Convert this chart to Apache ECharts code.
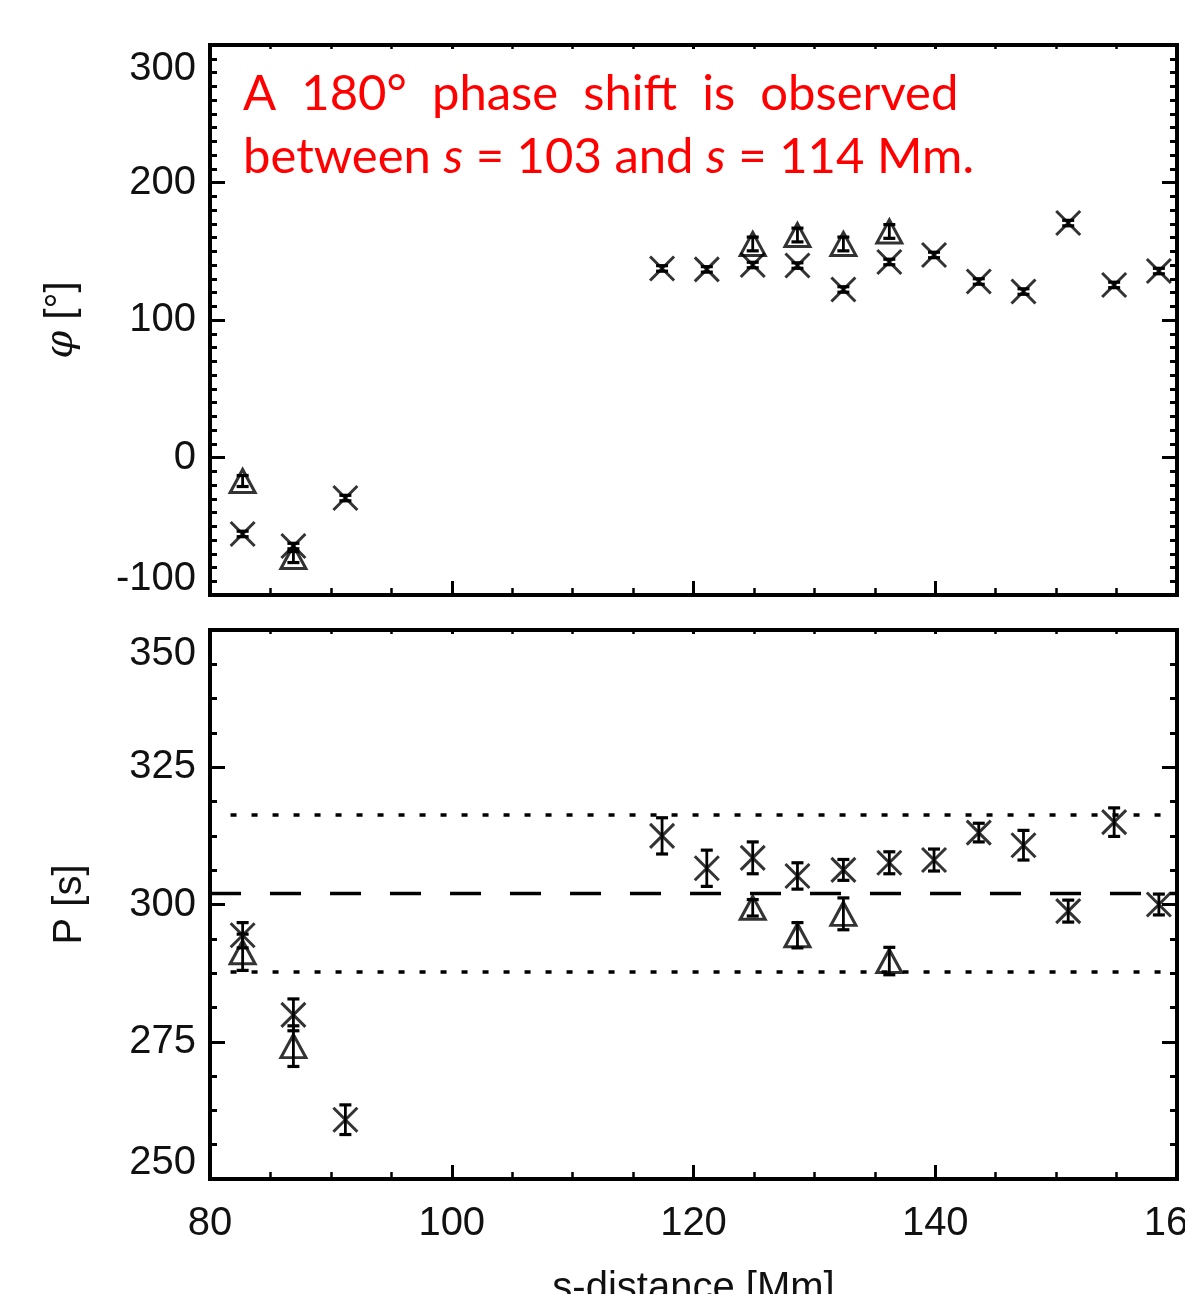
<!DOCTYPE html>
<html>
<head>
<meta charset="utf-8">
<title>phase and period</title>
<script src="https://cdn.jsdelivr.net/npm/echarts@6/dist/echarts.min.js"></script>
</head>
<body style="margin:0;padding:0;background:#fff;">
<div id="main" style="width:1185px;height:1294px;"></div>
<script type="text/javascript">
// s-distance of the measurement positions [Mm]
var sDist = [82.7, 86.9, 91.2, 117.4, 121.1, 124.9, 128.6, 132.4, 136.2, 139.9, 143.6, 147.3, 151.0, 154.8, 158.5];
// positions that also have a triangle measurement
var sTri = [82.7, 86.9, 124.9, 128.6, 132.4, 136.2];

// top panel: phase [deg]
var phaseX = [-55.6, -64.4, -29.5, 137.5, 136.8, 140.0, 139.6, 122.2, 142.2, 147.3, 128.0, 120.7, 170.5, 125.5, 135.6];
var phaseXErr = [2, 2, 2, 2, 2, 2, 2, 2, 2, 2, 2, 2, 2, 2, 2];
var phaseTri = [-17.1, -72.4, 155.3, 161.8, 155.3, 164.4];
var phaseTriErr = [4, 4, 5, 5, 5, 5];

// bottom panel: period [s]
var periodX = [294.4, 279.9, 260.8, 312.5, 306.6, 308.5, 305.2, 306.3, 307.6, 308.1, 313.1, 310.8, 298.8, 315.0, 300.0];
var periodXErr = [2.3, 2.9, 2.7, 3.3, 3.3, 2.9, 2.4, 1.9, 2.0, 2.0, 1.7, 2.7, 2.0, 2.6, 1.9];
var periodTri = [291.3, 274.2, 299.4, 294.4, 298.3, 289.7];
var periodTriErr = [3.3, 3.7, 1.5, 2.3, 2.9, 2.5];

// mean period and band
var meanP = 302;
var bandP = [316.3, 287.7];
var bandRange = [81.7, 159.2];

var FONT = '"Liberation Sans", Arial, sans-serif';
var RED_FONT = '49px Lato, "Open Sans", sans-serif';
var myChart = echarts.init(document.getElementById('main'));

function pts(xs, ys) {
    return xs.map(function (x, i) { return [x, ys[i]]; });
}
function errPts(xs, ys, es) {
    return xs.map(function (x, i) { return [x, ys[i], es[i]]; });
}

function errRender(params, api) {
    var x = api.value(0), y = api.value(1), e = api.value(2);
    var hi = api.coord([x, y + e]);
    var lo = api.coord([x, y - e]);
    var cw = 6;
    return {
        type: 'group',
        children: [
            { type: 'line', shape: { x1: hi[0], y1: hi[1], x2: lo[0], y2: lo[1] }, style: { stroke: '#000', lineWidth: 2.8 } },
            { type: 'line', shape: { x1: hi[0] - cw, y1: hi[1], x2: hi[0] + cw, y2: hi[1] }, style: { stroke: '#000', lineWidth: 3.2 } },
            { type: 'line', shape: { x1: lo[0] - cw, y1: lo[1], x2: lo[0] + cw, y2: lo[1] }, style: { stroke: '#000', lineWidth: 3.2 } }
        ]
    };
}

var crossSym = 'path://M0,0L10,10M10,0L0,10';
var markStyle = { color: 'transparent', borderColor: '#000', borderWidth: 3 };

function xAx(grid, pos, withLabels) {
    var a = {
        gridIndex: grid, type: 'value', min: 80, max: 160, interval: 20, position: pos,
        axisLine: { show: false, onZero: false },
        splitLine: { show: false },
        axisTick: { inside: true, length: pos === 'top' ? 4 : 14, lineStyle: { width: 3, color: '#000' } },
        minorTick: { show: true, splitNumber: 4, length: pos === 'top' ? 4 : 7, lineStyle: { width: 2.5, color: '#000' } },
        axisLabel: { show: withLabels, color: '#111', fontSize: 40, fontFamily: FONT, margin: 25 }
    };
    if (withLabels) {
        a.name = 's-distance [Mm]';
        a.nameLocation = 'middle';
        a.nameGap = 90;
        a.nameTextStyle = { color: '#111', fontSize: 40, fontFamily: FONT };
    }
    return a;
}

function yAx(grid, pos, min, max, interval, minorSplit, name, nameGap) {
    var a = {
        gridIndex: grid, type: 'value', min: min, max: max, interval: interval, position: pos,
        axisLine: { show: false, onZero: false },
        splitLine: { show: false },
        axisTick: { inside: true, length: 15, lineStyle: { width: 3, color: '#000' } },
        minorTick: { show: true, splitNumber: minorSplit, length: 7, lineStyle: { width: 3, color: '#000' } },
        axisLabel: { show: false }
    };
    if (pos === 'left') {
        a.axisLabel = {
            show: true, margin: 14,
            formatter: function (v) {
                if (v === max) return '{hi|' + v + '}';
                if (v === min) return '{lo|' + v + '}';
                return '{n|' + v + '}';
            },
            rich: {
                n: { color: '#111', fontSize: 40, fontFamily: FONT },
                hi: { color: '#111', fontSize: 40, fontFamily: FONT, padding: [48, 0, 0, 0] },
                lo: { color: '#111', fontSize: 40, fontFamily: FONT, padding: [0, 0, 32, 0] }
            }
        };
        a.name = name;
        a.nameLocation = 'middle';
        a.nameGap = nameGap;
        a.nameTextStyle = {
            color: '#111', fontSize: 40, fontFamily: FONT,
            rich: { i: { fontStyle: 'italic', fontSize: 40, fontFamily: '"DejaVu Serif", serif', color: '#111' } }
        };
    }
    return a;
}

var option = {
    backgroundColor: '#fff',
    animation: false,
    grid: [
        { left: 210, top: 45, width: 967, height: 550, outerBoundsMode: 'none', containLabel: false, show: true, borderColor: '#000', borderWidth: 4, backgroundColor: 'transparent' },
        { left: 210, top: 630, width: 967, height: 549, outerBoundsMode: 'none', containLabel: false, show: true, borderColor: '#000', borderWidth: 4, backgroundColor: 'transparent' }
    ],
    graphic: [
        {
            type: 'text', left: 243, top: 70,
            style: { text: 'A  180°  phase  shift  is  observed', fill: '#ff0000', font: RED_FONT }
        },
        {
            type: 'text', left: 243, top: 133,
            style: {
                text: 'between {i|s} = 103 and {i|s} = 114 Mm.', fill: '#ff0000', font: RED_FONT,
                rich: { i: { fill: '#ff0000', font: 'italic ' + RED_FONT } }
            }
        }
    ],
    xAxis: [
        xAx(0, 'bottom', false),
        xAx(0, 'top', false),
        xAx(1, 'bottom', true),
        xAx(1, 'top', false)
    ],
    yAxis: [
        yAx(0, 'left', -100, 300, 100, 10, '{i|φ} [°]', 128),
        yAx(0, 'right', -100, 300, 100, 10),
        yAx(1, 'left', 250, 350, 25, 4, 'P [s]', 120),
        yAx(1, 'right', 250, 350, 25, 4)
    ],
    series: [
        // top panel
        { type: 'custom', xAxisIndex: 0, yAxisIndex: 0, renderItem: errRender, encode: { x: 0, y: 1 }, data: errPts(sDist, phaseX, phaseXErr), clip: false, z: 3 },
        { type: 'custom', xAxisIndex: 0, yAxisIndex: 0, renderItem: errRender, encode: { x: 0, y: 1 }, data: errPts(sTri, phaseTri, phaseTriErr), clip: false, z: 3 },
        { type: 'scatter', xAxisIndex: 0, yAxisIndex: 0, symbol: crossSym, symbolSize: 24, itemStyle: markStyle, data: pts(sDist, phaseX), clip: false, z: 4 },
        { type: 'scatter', xAxisIndex: 0, yAxisIndex: 0, symbol: 'triangle', symbolSize: [25, 23], itemStyle: markStyle, data: pts(sTri, phaseTri), clip: false, z: 4 },
        // bottom panel reference lines
        { type: 'line', xAxisIndex: 2, yAxisIndex: 2, showSymbol: false, data: [[80, meanP], [160, meanP]], lineStyle: { color: '#000', width: 3.5, type: [31, 29] }, z: 2 },
        { type: 'line', xAxisIndex: 2, yAxisIndex: 2, showSymbol: false, data: [[bandRange[0], bandP[0]], [bandRange[1], bandP[0]]], lineStyle: { color: '#000', width: 3.5, type: [6, 15] }, z: 2 },
        { type: 'line', xAxisIndex: 2, yAxisIndex: 2, showSymbol: false, data: [[bandRange[0], bandP[1]], [bandRange[1], bandP[1]]], lineStyle: { color: '#000', width: 3.5, type: [6, 15] }, z: 2 },
        // bottom panel points
        { type: 'custom', xAxisIndex: 2, yAxisIndex: 2, renderItem: errRender, encode: { x: 0, y: 1 }, data: errPts(sDist, periodX, periodXErr), clip: false, z: 3 },
        { type: 'custom', xAxisIndex: 2, yAxisIndex: 2, renderItem: errRender, encode: { x: 0, y: 1 }, data: errPts(sTri, periodTri, periodTriErr), clip: false, z: 3 },
        { type: 'scatter', xAxisIndex: 2, yAxisIndex: 2, symbol: crossSym, symbolSize: 24, itemStyle: markStyle, data: pts(sDist, periodX), clip: false, z: 4 },
        { type: 'scatter', xAxisIndex: 2, yAxisIndex: 2, symbol: 'triangle', symbolSize: [25, 23], itemStyle: markStyle, data: pts(sTri, periodTri), clip: false, z: 4 }
    ]
};
myChart.setOption(option);
</script>
</body>
</html>
